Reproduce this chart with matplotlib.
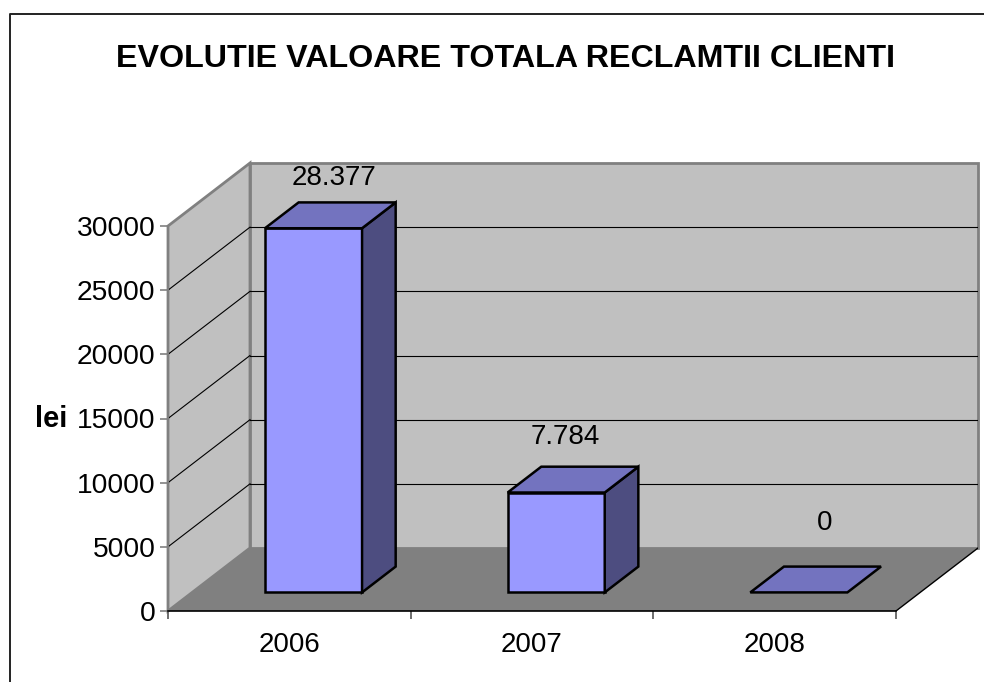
import matplotlib
matplotlib.use("Agg")
import matplotlib.pyplot as plt
from matplotlib.lines import Line2D
from matplotlib.patches import Polygon

plt.rcParams['font.family'] = ['Liberation Sans', 'DejaVu Sans']

title = "EVOLUTIE VALOARE TOTALA RECLAMTII CLIENTI"
years = ["2006", "2007", "2008"]
values = [28377, 7784, 0]
value_labels = ["28.377", "7.784", "0"]
y_ticks = [0, 5000, 10000, 15000, 20000, 25000, 30000]
y_title = "lei"

W, H = 984, 682
# front plane of the chart box in pixels, and how far the back wall is shifted
left_px, right_px, bottom_px, top_px = 168, 896, 611, 226
depth_px_x, depth_px_y = 82, 63

fig = plt.figure(figsize=(W / 100, H / 100), dpi=100)

# the border only shows on the top and left
fig.add_artist(Line2D([10 / W, 10 / W, 1], [0, 1 - 14 / H, 1 - 14 / H], color="#222222", lw=1.4))

ax = fig.add_axes([left_px / W, (H - bottom_px) / H, (right_px + depth_px_x - left_px) / W,
                   (bottom_px - top_px + depth_px_y) / H])
ax.patch.set_visible(False)

x_per_px = len(years) / (right_px - left_px)
y_per_px = y_ticks[-1] / (bottom_px - top_px)
dx = depth_px_x * x_per_px
dy = depth_px_y * y_per_px
ax.set_xlim(0, len(years) + dx)
ax.set_ylim(0, y_ticks[-1] + dy)

ymax = y_ticks[-1]
nx = len(years)


def add_poly(points, fc, ec="none", lw=0, z=1):
    ax.add_patch(Polygon(points, closed=True, fc=fc, ec=ec, lw=lw, zorder=z, joinstyle="miter", clip_on=False))


# walls and floor
add_poly([(0, 0), (dx, dy), (dx, ymax + dy), (0, ymax)], "#C0C0C0", "#808080", 2)
add_poly([(dx, dy), (nx + dx, dy), (nx + dx, ymax + dy), (dx, ymax + dy)], "#C0C0C0", "#808080", 2)
add_poly([(0, 0), (nx, 0), (nx + dx, dy), (dx, dy)], "#808080", z=1.5)

# grid lines, side wall then back wall (the top one is the wall edge)
for t in y_ticks[1:-1]:
    ax.plot([0, dx], [t, t + dy], color="black", lw=0.8, zorder=2)
    ax.plot([dx, nx + dx], [t + dy, t + dy], color="black", lw=0.8, zorder=2)
ax.plot([nx, nx + dx], [0, dy], color="black", lw=1, zorder=2)

# bars
bar_w = 0.4
depth_start = 0.295
depth_size = 0.41
edge = dict(ec="black", lw=1.8)
for i, v in enumerate(values):
    x0 = i + 0.5 - bar_w / 2 + depth_start * dx
    x1 = x0 + bar_w
    y0 = depth_start * dy
    y1 = y0 + v
    bx = depth_size * dx
    by = depth_size * dy
    if v > 0:
        add_poly([(x0, y0), (x1, y0), (x1, y1), (x0, y1)], "#9999FF", z=3, **edge)
        add_poly([(x1, y0), (x1 + bx, y0 + by), (x1 + bx, y1 + by), (x1, y1)], "#4D4D80", z=3, **edge)
    add_poly([(x0, y1), (x1, y1), (x1 + bx, y1 + by), (x0 + bx, y1 + by)], "#7373BF", z=3, **edge)

# value labels, offsets in pixels from the middle of the bar top
label_offsets = [(4, 37), (-8, 43), (9, 56)]
for i, v in enumerate(values):
    lx = i + 0.5 + depth_start * dx + depth_size * dx / 2
    ly = depth_start * dy + v + depth_size * dy / 2
    off = label_offsets[i]
    ax.annotate(value_labels[i], (lx, ly), xytext=(off[0] * 0.72, off[1] * 0.72), textcoords="offset points",
                ha="center", va="center", fontsize=20, zorder=5)

# axes
for s in ["top", "right"]:
    ax.spines[s].set_visible(False)
ax.spines["left"].set_bounds(0, ymax)
ax.spines["left"].set_color("#808080")
ax.spines["left"].set_linewidth(1.4)
ax.spines["left"].set_zorder(4)
ax.spines["bottom"].set_bounds(0, nx)
ax.spines["bottom"].set_linewidth(1.2)
ax.spines["bottom"].set_zorder(4)

ax.set_yticks(y_ticks)
ax.set_yticklabels([str(t) for t in y_ticks])
ax.tick_params(axis="y", length=6, width=1.2, color="#808080", labelsize=20.3, pad=3)
ax.set_xticks(range(nx + 1))
ax.set_xticklabels([])
ax.set_xticks([i + 0.5 for i in range(nx)], minor=True)
ax.set_xticklabels(years, minor=True)
ax.tick_params(axis="x", which="major", length=6, width=1.2, color="#555555")
ax.tick_params(axis="x", which="minor", length=0, labelsize=20, pad=15)

fig.text(505 / W, 1 - 59 / H, title, ha="center", va="center", fontsize=23.2, fontweight="bold")
fig.text(51 / W, 1 - 419 / H, y_title, ha="center", va="center", fontsize=21, fontweight="bold")

fig.savefig("out.png", dpi=100)
